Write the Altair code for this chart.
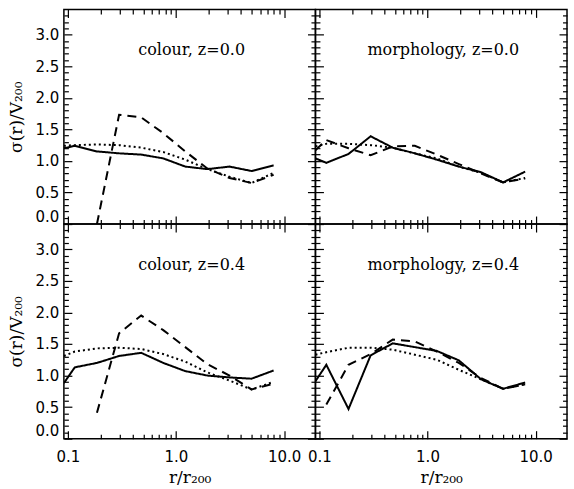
import altair as alt
import pandas as pd

# radial bins (r / r200); the first entry is the left edge of the plot where lines enter
R = [0.092, 0.116, 0.186, 0.298, 0.477, 0.763, 1.22, 1.95, 3.13, 5.0, 8.0]

# colour, z=0.0
TL_SOLID = [1.20, 1.24, 1.15, 1.12, 1.10, 1.04, 0.91, 0.87, 0.91, 0.84, 0.93]
TL_DASHED = [None, None, 0.00, 1.73, 1.69, 1.44, 1.15, 0.88, 0.73, 0.65, 0.78]
TL_DOTTED = [1.24, 1.25, 1.26, 1.25, 1.21, 1.14, 1.02, 0.87, 0.75, 0.65, 0.81]

# morphology, z=0.0
TR_SOLID = [1.04, 0.97, 1.11, 1.39, 1.21, 1.12, 1.02, 0.91, 0.82, 0.66, 0.83]
TR_DASHED = [1.17, 1.33, 1.20, 1.09, 1.23, 1.24, 1.10, 0.95, 0.80, 0.66, 0.72]
TR_DOTTED = [1.23, 1.27, 1.27, 1.25, 1.21, 1.12, 1.04, 0.91, 0.81, 0.66, 0.73]

# colour, z=0.4
BL_SOLID = [0.88, 1.13, 1.20, 1.31, 1.36, 1.20, 1.07, 1.00, 0.97, 0.95, 1.08]
BL_DASHED = [None, None, 0.41, 1.67, 1.95, 1.72, 1.45, 1.18, 1.00, 0.78, 0.87]
BL_DOTTED = [1.31, 1.38, 1.43, 1.44, 1.42, 1.34, 1.22, 1.05, 0.92, 0.78, 0.90]

# morphology, z=0.4
BR_SOLID = [0.91, 1.17, 0.47, 1.32, 1.51, 1.45, 1.39, 1.24, 0.94, 0.79, 0.89]
BR_DASHED = [None, 0.54, 1.17, 1.34, 1.57, 1.54, 1.38, 1.20, 0.96, 0.79, 0.86]
BR_DOTTED = [1.33, 1.37, 1.44, 1.44, 1.41, 1.33, 1.25, 1.09, 0.94, 0.79, 0.86]

PANEL_LABELS = ["colour, z=0.0", "morphology, z=0.0", "colour, z=0.4", "morphology, z=0.4"]
SERIES = ["solid", "dashed", "dotted"]

X_DOMAIN = [0.092, 19.5]
Y_DOMAIN = [0.0, 3.4]
X_MAJOR = [0.1, 1.0, 10.0]
X_MINOR = [0.2, 0.3, 0.4, 0.5, 0.6, 0.7, 0.8, 0.9, 2, 3, 4, 5, 6, 7, 8, 9]
Y_MAJOR = [0.0, 0.5, 1.0, 1.5, 2.0, 2.5, 3.0]
Y_MINOR = [round(i * 0.1, 1) for i in range(1, 34) if i % 5 != 0]

Y_TITLE = "σ(r)/V₂₀₀"
X_TITLE = "r/r₂₀₀"

W, H = 252, 215
MAJ, MIN = 8, 4.5


def make_df(solid, dashed, dotted):
    rows = []
    for name, vals in zip(SERIES, (solid, dashed, dotted)):
        for r, v in zip(R, vals):
            if v is not None:
                rows.append({"r": r, "s": v, "series": name})
    return pd.DataFrame(rows)


def axis(orient, values, size, show_labels=False, title=None, is_y=False):
    kw = dict(
        orient=orient, values=values, tickSize=size, offset=-size,
        domain=False, grid=False, ticks=True, tickColor="black",
        tickWidth=1.2, labels=show_labels, title=title,
    )
    if show_labels:
        kw["format"] = ".1f"
        if is_y:
            kw["labelPadding"] = 5
            kw["labelFlush"] = True
            kw["titlePadding"] = 10
        else:
            kw["labelPadding"] = 11
            kw["labelFlush"] = False
            kw["titlePadding"] = 5
    return alt.Axis(**kw)


def panel(df, label, xlab, ylab):
    xs = alt.Scale(type="log", domain=X_DOMAIN, nice=False)
    ys = alt.Scale(domain=Y_DOMAIN, nice=False, zero=False)

    lines = alt.Chart(df).mark_line(clip=True, color="black", strokeWidth=2).encode(
        x=alt.X("r:Q", scale=xs,
                axis=axis("bottom", X_MAJOR, MAJ, xlab, X_TITLE if xlab else None)),
        y=alt.Y("s:Q", scale=ys,
                axis=axis("left", Y_MAJOR, MAJ, ylab, Y_TITLE if ylab else None, is_y=True)),
        strokeDash=alt.StrokeDash(
            "series:N",
            scale=alt.Scale(domain=SERIES, range=[[1, 0], [9, 6], [2, 3]]),
            legend=None,
        ),
    )

    def ghost(xax, yax):
        return alt.Chart(df).mark_point(opacity=0, size=1).encode(
            x=alt.X("r:Q", scale=xs, axis=xax),
            y=alt.Y("s:Q", scale=ys, axis=yax),
        )

    g1 = ghost(axis("top", X_MAJOR, MAJ), axis("right", Y_MAJOR, MAJ))
    g2 = ghost(axis("bottom", X_MINOR, MIN), axis("left", Y_MINOR, MIN))
    g3 = ghost(axis("top", X_MINOR, MIN), axis("right", Y_MINOR, MIN))

    text = alt.Chart(alt.Data(values=[{"label": label}])).mark_text(
        font="DejaVu Serif", fontSize=16, color="black", align="center", baseline="middle"
    ).encode(text="label:N", x=alt.value(128), y=alt.value(41))

    return alt.layer(lines, g1, g2, g3, text).resolve_axis(
        x="independent", y="independent"
    ).properties(width=W, height=H)


p_tl = panel(make_df(TL_SOLID, TL_DASHED, TL_DOTTED), PANEL_LABELS[0], False, True)
p_tr = panel(make_df(TR_SOLID, TR_DASHED, TR_DOTTED), PANEL_LABELS[1], False, False)
p_bl = panel(make_df(BL_SOLID, BL_DASHED, BL_DOTTED), PANEL_LABELS[2], True, True)
p_br = panel(make_df(BR_SOLID, BR_DASHED, BR_DOTTED), PANEL_LABELS[3], True, False)

chart = alt.concat(p_tl, p_tr, p_bl, p_br, columns=2, spacing=0, bounds="flush").properties(
    padding={"left": 6, "top": 7, "right": 5, "bottom": 5},
    background="white",
).configure_view(
    stroke="black", strokeWidth=1.5
).configure_axis(
    labelFont="DejaVu Sans", labelFontSize=15, labelColor="black",
    titleFont="DejaVu Serif", titleFontSize=17, titleFontWeight="normal",
    titleColor="black",
)

chart.save("out.html", embed_options={"renderer": "svg", "actions": False})
